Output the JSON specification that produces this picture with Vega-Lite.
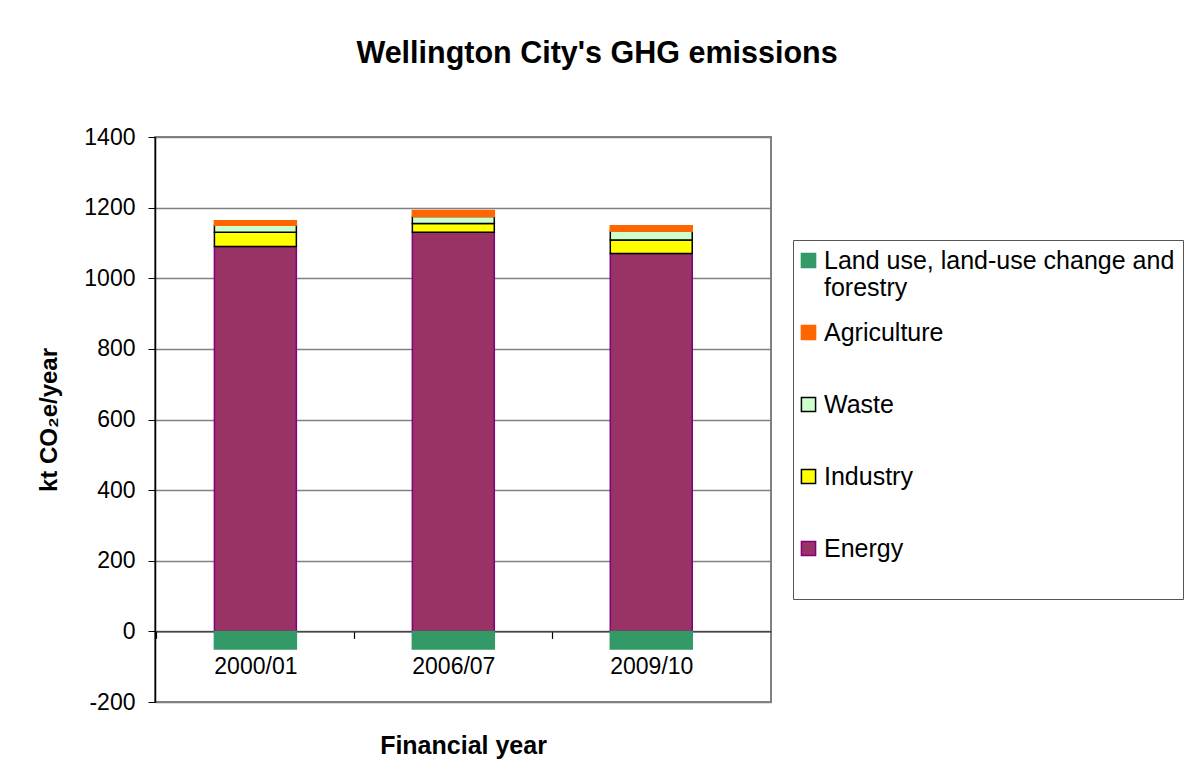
{
  "$schema": "https://vega.github.io/schema/vega-lite/v6.json",
  "width": 616,
  "height": 565,
  "autosize": {"type": "none"},
  "padding": {"left": 155, "top": 137, "right": 415, "bottom": 82},
  "background": "white",
  "title": {
    "text": "Wellington City's GHG emissions",
    "font": "Liberation Sans",
    "fontSize": 30.5,
    "fontWeight": "bold",
    "color": "#000000",
    "anchor": "middle",
    "frame": "group",
    "dx": 134,
    "offset": 33,
    "baseline": "alphabetic"
  },
  "data": {
    "values": [
      {"year": "2000/01", "sector": "Energy", "value": 1090, "layer": 1},
      {"year": "2000/01", "sector": "Industry", "value": 40, "layer": 2},
      {"year": "2000/01", "sector": "Waste", "value": 20, "layer": 3},
      {"year": "2000/01", "sector": "Agriculture", "value": 13, "layer": 4},
      {"year": "2000/01", "sector": "Land use, land-use change and forestry", "value": -50, "layer": 5},
      {"year": "2006/07", "sector": "Energy", "value": 1130, "layer": 1},
      {"year": "2006/07", "sector": "Industry", "value": 25, "layer": 2},
      {"year": "2006/07", "sector": "Waste", "value": 20, "layer": 3},
      {"year": "2006/07", "sector": "Agriculture", "value": 17, "layer": 4},
      {"year": "2006/07", "sector": "Land use, land-use change and forestry", "value": -50, "layer": 5},
      {"year": "2009/10", "sector": "Energy", "value": 1070, "layer": 1},
      {"year": "2009/10", "sector": "Industry", "value": 38, "layer": 2},
      {"year": "2009/10", "sector": "Waste", "value": 25, "layer": 3},
      {"year": "2009/10", "sector": "Agriculture", "value": 16, "layer": 4},
      {"year": "2009/10", "sector": "Land use, land-use change and forestry", "value": -50, "layer": 5}
    ]
  },
  "mark": {"type": "bar", "strokeWidth": 1.5},
  "encoding": {
    "x": {
      "field": "year",
      "type": "nominal",
      "sort": null,
      "scale": {"paddingInner": 0.586, "paddingOuter": 0.349, "align": 0.43},
      "axis": {
        "title": "Financial year",
        "orient": "bottom",
        "offset": -70.6,
        "labelAngle": 0,
        "labelFont": "Liberation Sans",
        "labelFontSize": 23,
        "labelColor": "#000000",
        "labelPadding": 17,
        "bandPosition": 0,
        "tickOffset": -58,
        "labelOffset": 58,
        "tickSize": 7,
        "tickColor": "#000000",
        "tickWidth": 1.2,
        "domainColor": "#333333",
        "domainWidth": 1.3,
        "titleFont": "Liberation Sans",
        "titleFontSize": 25,
        "titleFontWeight": "bold",
        "titleColor": "#000000",
        "titlePadding": 55
      }
    },
    "y": {
      "field": "value",
      "type": "quantitative",
      "stack": "zero",
      "scale": {"domain": [-200, 1400], "nice": false},
      "axis": {
        "title": "kt CO₂e/year",
        "titleFont": "Liberation Sans",
        "titleFontSize": 24,
        "titleFontWeight": "bold",
        "titleColor": "#000000",
        "titlePadding": 22,
        "values": [-200, 0, 200, 400, 600, 800, 1000, 1200, 1400],
        "labelExpr": "datum.value + ''",
        "labelFont": "Liberation Sans",
        "labelFontSize": 23,
        "labelColor": "#000000",
        "labelPadding": 13,
        "tickSize": 7,
        "tickColor": "#000000",
        "domainColor": "#000000",
        "domainWidth": 1.5,
        "grid": true,
        "gridColor": "#808080",
        "gridWidth": 1.3
      }
    },
    "color": {
      "field": "sector",
      "type": "nominal",
      "scale": {
        "domain": ["Land use, land-use change and forestry", "Agriculture", "Waste", "Industry", "Energy"],
        "range": ["#339966", "#FF6600", "#CCFFCC", "#FFFF00", "#993366"]
      },
      "legend": {
        "orient": "none",
        "legendX": 638,
        "legendY": 103,
        "title": " ",
        "titleOrient": "bottom",
        "titleFontSize": 12,
        "titlePadding": 18,
        "symbolType": "square",
        "symbolSize": 200,
        "symbolStrokeWidth": 1.5,
        "symbolOffset": -5,
        "labelFont": "Liberation Sans",
        "labelFontSize": 25,
        "labelColor": "#000000",
        "labelLimit": 420,
        "labelExpr": "datum.label == 'Land use, land-use change and forestry' ? ['Land use, land-use change and', 'forestry'] : datum.label",
        "gridAlign": "all",
        "rowPadding": 19,
        "padding": 8,
        "strokeColor": "#555555",
        "fillColor": "#ffffff",
        "labelOffset": 3
      }
    },
    "stroke": {
      "field": "sector",
      "type": "nominal",
      "scale": {
        "domain": ["Land use, land-use change and forestry", "Agriculture", "Waste", "Industry", "Energy"],
        "range": ["#339966", "#FF6600", "#000000", "#000000", "#800080"]
      },
      "legend": {
        "orient": "none",
        "legendX": 638,
        "legendY": 103,
        "title": " ",
        "titleOrient": "bottom",
        "titleFontSize": 12,
        "titlePadding": 18,
        "symbolType": "square",
        "symbolSize": 200,
        "symbolStrokeWidth": 1.5,
        "symbolOffset": -5,
        "labelFont": "Liberation Sans",
        "labelFontSize": 25,
        "labelColor": "#000000",
        "labelLimit": 420,
        "labelExpr": "datum.label == 'Land use, land-use change and forestry' ? ['Land use, land-use change and', 'forestry'] : datum.label",
        "gridAlign": "all",
        "rowPadding": 19,
        "padding": 8,
        "strokeColor": "#555555",
        "fillColor": "#ffffff",
        "labelOffset": 3
      }
    },
    "order": {"field": "layer", "type": "quantitative"}
  },
  "config": {
    "view": {"stroke": "#808080", "strokeWidth": 2}
  }
}
